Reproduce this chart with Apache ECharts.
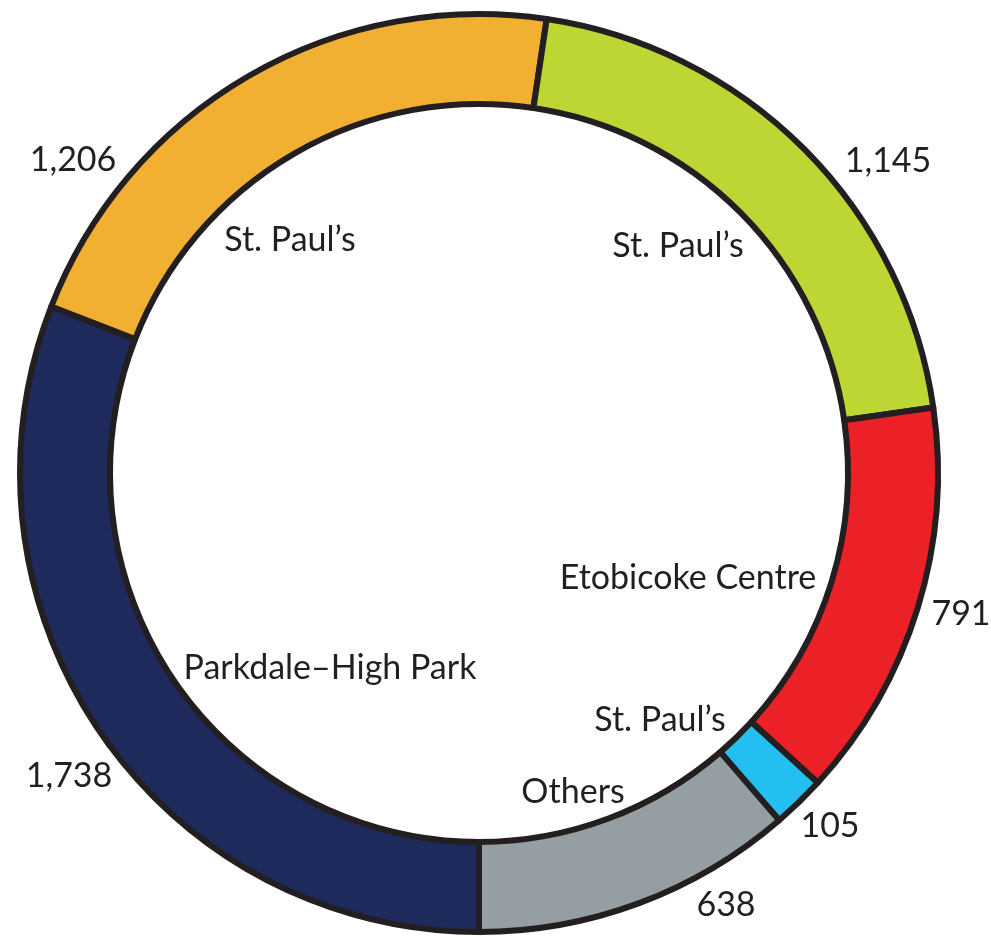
<!DOCTYPE html>
<html>
<head>
<meta charset="utf-8">
<script src="https://cdn.jsdelivr.net/npm/echarts@6/dist/echarts.min.js"></script>
<style>
html,body{margin:0;padding:0;background:#fff;}
#chart{width:991px;height:936px;}
</style>
</head>
<body>
<div id="chart"></div>
<script>
// Data (clockwise from the bottom)
var names = ['Parkdale\u2013High Park', 'St. Paul\u2019s', 'St. Paul\u2019s', 'Etobicoke Centre', 'St. Paul\u2019s', 'Others'];
var values = [1738, 1206, 1145, 791, 105, 638];
var colors = ['#1f2a5c', '#f2b032', '#bed633', '#ec2027', '#22bff0', '#959ea2'];

// label placement relative to the pie centre [dx, dy] in px
var valueLabelOffsets = [[-410, 303], [-406, -313], [409, -312], [482, 141], [351, 353], [247, 432]];
var nameLabelOffsets = [[-149, 195], [-189, -233], [199, -227], [209, 105], [181, 247], [94, 319]];

var CX = 479, CY = 473;

function fmt(v) { return v.toLocaleString('en-US'); }

var data = values.map(function (v, i) {
  return { name: names[i], value: v, itemStyle: { color: colors[i] } };
});

var textStyle = { fontFamily: 'Lato', fontSize: 34, color: '#231f20' };

var chart = echarts.init(document.getElementById('chart'), null, { renderer: 'canvas' });
chart.setOption({
  animation: false,
  backgroundColor: '#ffffff',
  series: [
    {
      type: 'pie',
      center: [CX, CY],
      radius: [369, 459],
      startAngle: -90,
      clockwise: true,
      avoidLabelOverlap: false,
      silent: true,
      itemStyle: { borderColor: '#231f20', borderWidth: 6 },
      label: Object.assign({
        show: true,
        position: 'outside',
        formatter: function (p) { return fmt(p.value); }
      }, textStyle),
      labelLine: { show: false },
      labelLayout: function (p) {
        var o = valueLabelOffsets[p.dataIndex];
        return { x: CX + o[0], y: CY + o[1], align: 'center', verticalAlign: 'middle' };
      },
      data: data
    },
    {
      type: 'pie',
      center: [CX, CY],
      radius: [0, 360],
      startAngle: -90,
      clockwise: true,
      avoidLabelOverlap: false,
      silent: true,
      itemStyle: { color: 'rgba(0,0,0,0)', borderWidth: 0 },
      label: Object.assign({
        show: true,
        position: 'inside',
        formatter: function (p) { return p.name; }
      }, textStyle),
      labelLine: { show: false },
      labelLayout: function (p) {
        var o = nameLabelOffsets[p.dataIndex];
        return { x: CX + o[0], y: CY + o[1], align: 'center', verticalAlign: 'middle' };
      },
      data: values.map(function (v, i) { return { name: names[i], value: v }; })
    }
  ]
});
</script>
</body>
</html>
